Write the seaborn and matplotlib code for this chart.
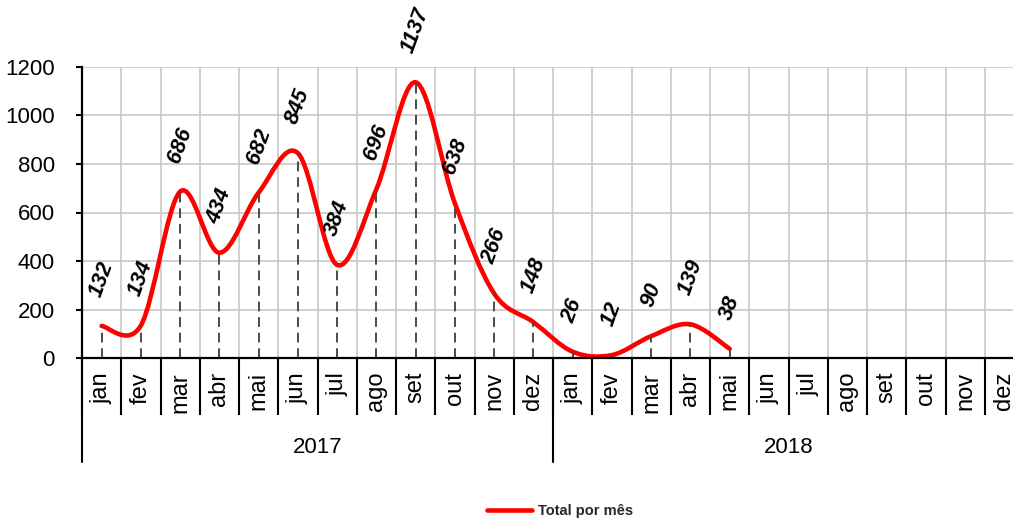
import numpy as np
import matplotlib
matplotlib.use('Agg')
import matplotlib.pyplot as plt
from matplotlib.path import Path
from matplotlib.patches import PathPatch
from matplotlib.lines import Line2D
import seaborn as sns

years = ['2017', '2018']
months = ['jan', 'fev', 'mar', 'abr', 'mai', 'jun', 'jul', 'ago', 'set', 'out', 'nov', 'dez']
values = [132, 134, 686, 434, 682, 845, 384, 696, 1137, 638, 266, 148, 26, 12, 90, 139, 38]
series_name = 'Total por mês'
yticks = [0, 200, 400, 600, 800, 1000, 1200]

sns.set_theme(style='white')
plt.rcParams['font.family'] = ['Liberation Sans', 'DejaVu Sans']

W, H = 1013, 518
fig = plt.figure(figsize=(W / 100, H / 100), dpi=100)
ax = fig.add_axes([82 / W, 1 - 358 / H, 942 / W, 291 / H])

n_cat = len(years) * len(months)
cat_labels = months * len(years)
xs = np.arange(len(values), dtype=float)
ys = np.array(values, dtype=float)

# Excel-style smoothed line (cubic Bezier through every point)
verts = [(xs[0], ys[0])]
codes = [Path.MOVETO]
last = len(xs) - 1
for i in range(last):
    p0 = np.array([xs[max(i - 1, 0)], ys[max(i - 1, 0)]])
    p1 = np.array([xs[i], ys[i]])
    p2 = np.array([xs[i + 1], ys[i + 1]])
    p3 = np.array([xs[min(i + 2, last)], ys[min(i + 2, last)]])
    c1 = p1 + (p2 - p0) / 6
    c2 = p2 - (p3 - p1) / 6
    verts += [tuple(c1), tuple(c2), tuple(p2)]
    codes += [Path.CURVE4] * 3
curve = PathPatch(Path(verts, codes), facecolor='none', edgecolor='#ff0000',
                  lw=3.3, zorder=3, capstyle='round', joinstyle='round')
ax.add_patch(curve)

# drop lines
ax.vlines(xs, 0, ys, colors='#4a4a4a', linestyles=(0, (5, 3)), lw=1.4, zorder=4)

# data labels
for x, y, v in zip(xs, ys, values):
    ax.annotate(str(v), (x, y), xytext=(0, 19), textcoords='offset points',
                ha='center', va='bottom', rotation=70, fontsize=15.5,
                fontweight='bold', fontstyle='italic', color='black',
                annotation_clip=False, zorder=5)

ax.set_xlim(-0.5, n_cat - 0.5)
ax.set_ylim(0, 1200)
ax.set_yticks(yticks)
ax.set_yticklabels([str(t) for t in yticks])

ax.set_xticks(np.arange(n_cat))
ax.set_xticklabels(cat_labels, rotation=90)
ax.set_xticks(np.arange(-0.5, n_cat, 1), minor=True)

ax.tick_params(axis='x', which='major', length=0, pad=10, labelsize=17, colors='black')
ax.tick_params(axis='x', which='minor', bottom=True, length=41, width=1.5,
               direction='out', color='black')
ax.tick_params(axis='y', left=True, length=4.5, width=1.5, direction='out',
               pad=15, labelsize=16, colors='black')

ax.grid(axis='y', which='major', color='#c8c8c8', lw=1.2)
ax.grid(axis='x', which='minor', color='#c8c8c8', lw=1.2)
ax.grid(axis='x', which='major', visible=False)
ax.set_axisbelow(True)

sns.despine(ax=ax, top=True, right=True)
for s in ['left', 'bottom']:
    ax.spines[s].set_color('black')
    ax.spines[s].set_linewidth(1.6)
    ax.spines[s].set_zorder(6)

tr = ax.get_xaxis_transform()
for k, yr in enumerate(years):
    ax.text(k * len(months) + (len(months) - 1) / 2, -0.306, yr, transform=tr,
            ha='center', va='center', fontsize=16, color='black')
for k in range(len(years) + 1):
    b = k * len(months) - 0.5
    ax.plot([b, b], [0, -0.357], transform=tr, color='black', lw=1.5, clip_on=False)

handle = Line2D([], [], color='#ff0000', lw=3.3)
fig.legend(handles=[handle], labels=[series_name], loc='center',
           bbox_to_anchor=(560 / W, 1 - 511 / H), frameon=False,
           prop=dict(weight='bold', size=10.5), handlelength=3.1, handletextpad=0.4)

fig.savefig('out.png', dpi=100)
